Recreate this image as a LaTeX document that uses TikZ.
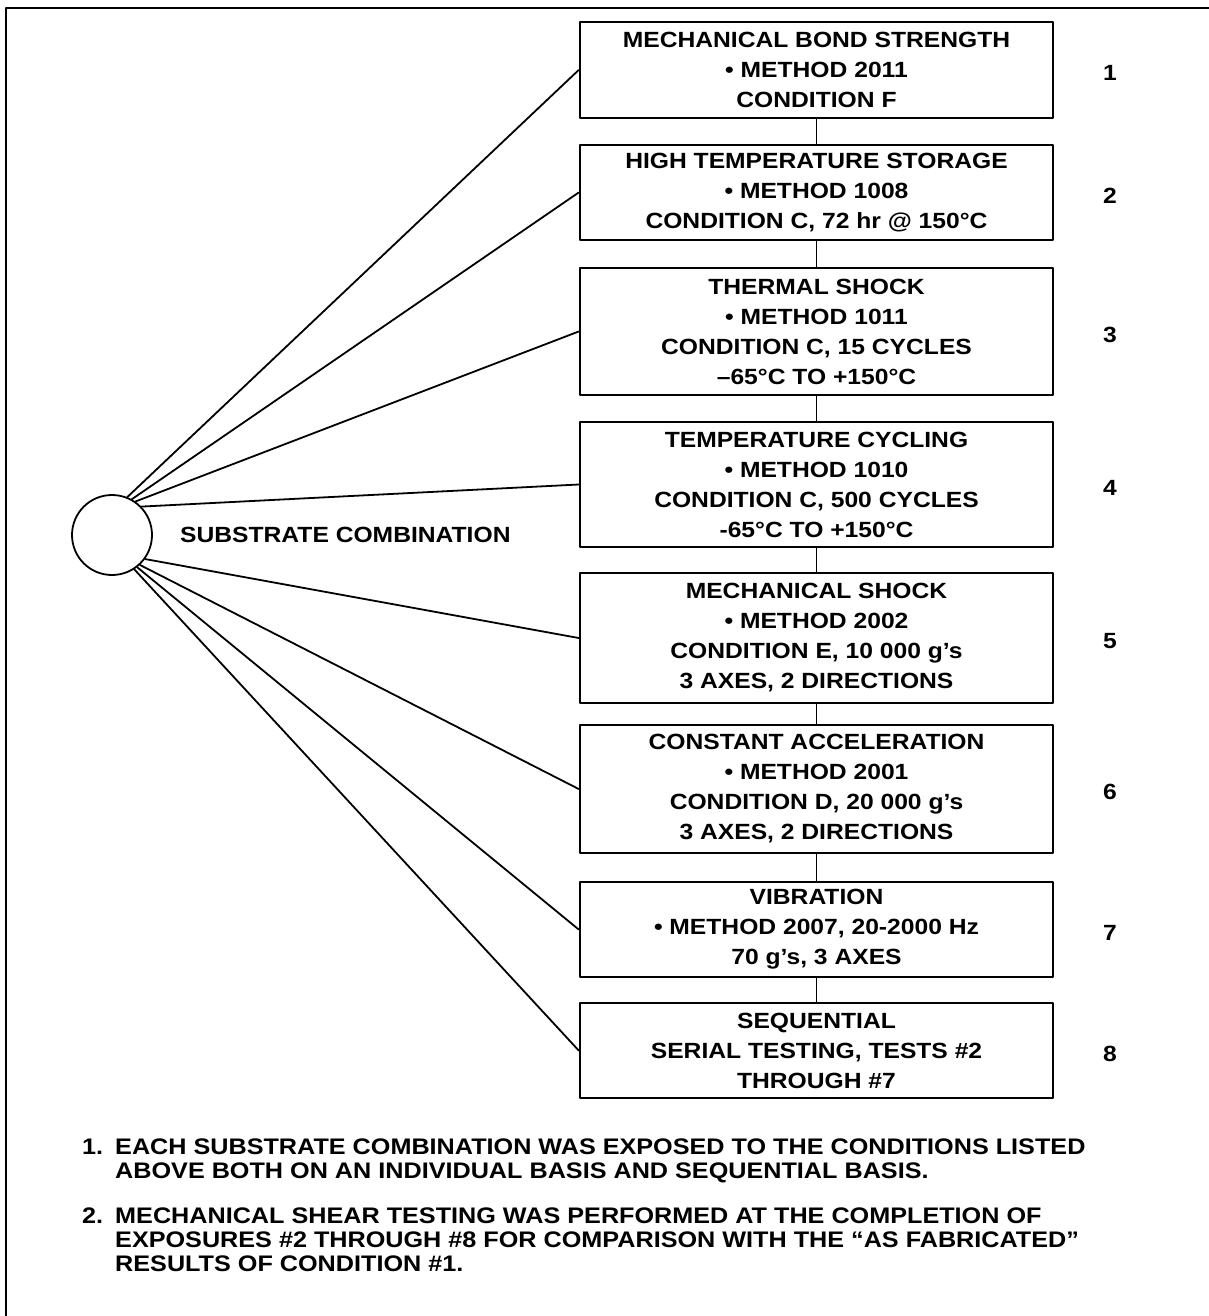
\documentclass[tikz,border=0pt]{standalone}
\usepackage{fontspec}
\setmainfont{Liberation Sans}[FakeStretch=1.12]
\begin{document}
\begin{tikzpicture}[x=1pt,y=-1pt,line cap=round,line join=round,
  testbox/.style={draw,line width=2.6pt,minimum width=473pt,inner sep=0pt,align=center,
    font=\fontsize{22}{30}\selectfont\bfseries},
  spoke/.style={line width=1.8pt},
  num/.style={font=\fontsize{22}{26}\selectfont\bfseries},
  note/.style={font=\fontsize{22.5}{24}\selectfont\bfseries,inner sep=0pt,anchor=north west,align=left}]
\useasboundingbox (0,0) rectangle (1209,1316);
% Rahmen oben und links
\draw[line width=2.6pt] (6,1316) -- (6,8) -- (1209,8);
% Substrat links
\node[circle,draw,line width=1.8pt,minimum size=80pt,inner sep=0pt] (sub) at (112,535) {};
\node[font=\fontsize{22}{26}\selectfont\bfseries,anchor=west,inner sep=0pt] (sublabel) at (180,535) {SUBSTRATE COMBINATION};
% Acht Pruefungen, je mit Nummer und Strahl vom Kreis
\foreach \k/\yc/\hh/\ang/\txt in {
  1/70/96/68/{MECHANICAL BOND STRENGTH\\• METHOD 2011\\CONDITION F},
  2/192.5/95/61/{HIGH TEMPERATURE STORAGE\\• METHOD 1008\\CONDITION C, 72 hr @ 150°C},
  3/331.5/127/55/{THERMAL SHOCK\\• METHOD 1011\\CONDITION C, 15 CYCLES\\–65°C TO +150°C},
  4/484.5/125/44/{TEMPERATURE CYCLING\\• METHOD 1010\\CONDITION C, 500 CYCLES\\-65°C TO +150°C},
  5/638/130/-36/{MECHANICAL SHOCK\\• METHOD 2002\\CONDITION E, 10 000 g’s\\3 AXES, 2 DIRECTIONS},
  6/789/128/-47/{CONSTANT ACCELERATION\\• METHOD 2001\\CONDITION D, 20 000 g’s\\3 AXES, 2 DIRECTIONS},
  7/929.5/95/-52/{VIBRATION\\• METHOD 2007, 20-2000 Hz\\70 g’s, 3 AXES},
  8/1050.5/95/-57/{SEQUENTIAL\\SERIAL TESTING, TESTS \#2\\THROUGH \#7}}{
 \node[testbox,minimum height=\hh pt] (b\k) at (816.5,\yc) {\txt};
 \node[num] (n\k) at (1110,\yc+3) {\k};
 \draw[spoke] (sub.\ang) -- (b\k.west);
}
\foreach \k/\j in {1/2,2/3,3/4,4/5,5/6,6/7,7/8}
 \draw[line width=1.8pt] (b\k.south) -- (b\j.north);
% Anmerkungen
\node[note] (f1nr) at (82,1139) {1.};
\node[note] (f1) at (115,1139) {EACH SUBSTRATE COMBINATION WAS EXPOSED TO THE CONDITIONS LISTED\\ABOVE BOTH ON AN INDIVIDUAL BASIS AND SEQUENTIAL BASIS.};
\node[note] (f2nr) at (82,1208) {2.};
\node[note] (f2) at (115,1208) {MECHANICAL SHEAR TESTING WAS PERFORMED AT THE COMPLETION OF\\EXPOSURES \#2 THROUGH \#8 FOR COMPARISON WITH THE “AS FABRICATED”\\RESULTS OF CONDITION \#1.};
\end{tikzpicture}
\end{document}
